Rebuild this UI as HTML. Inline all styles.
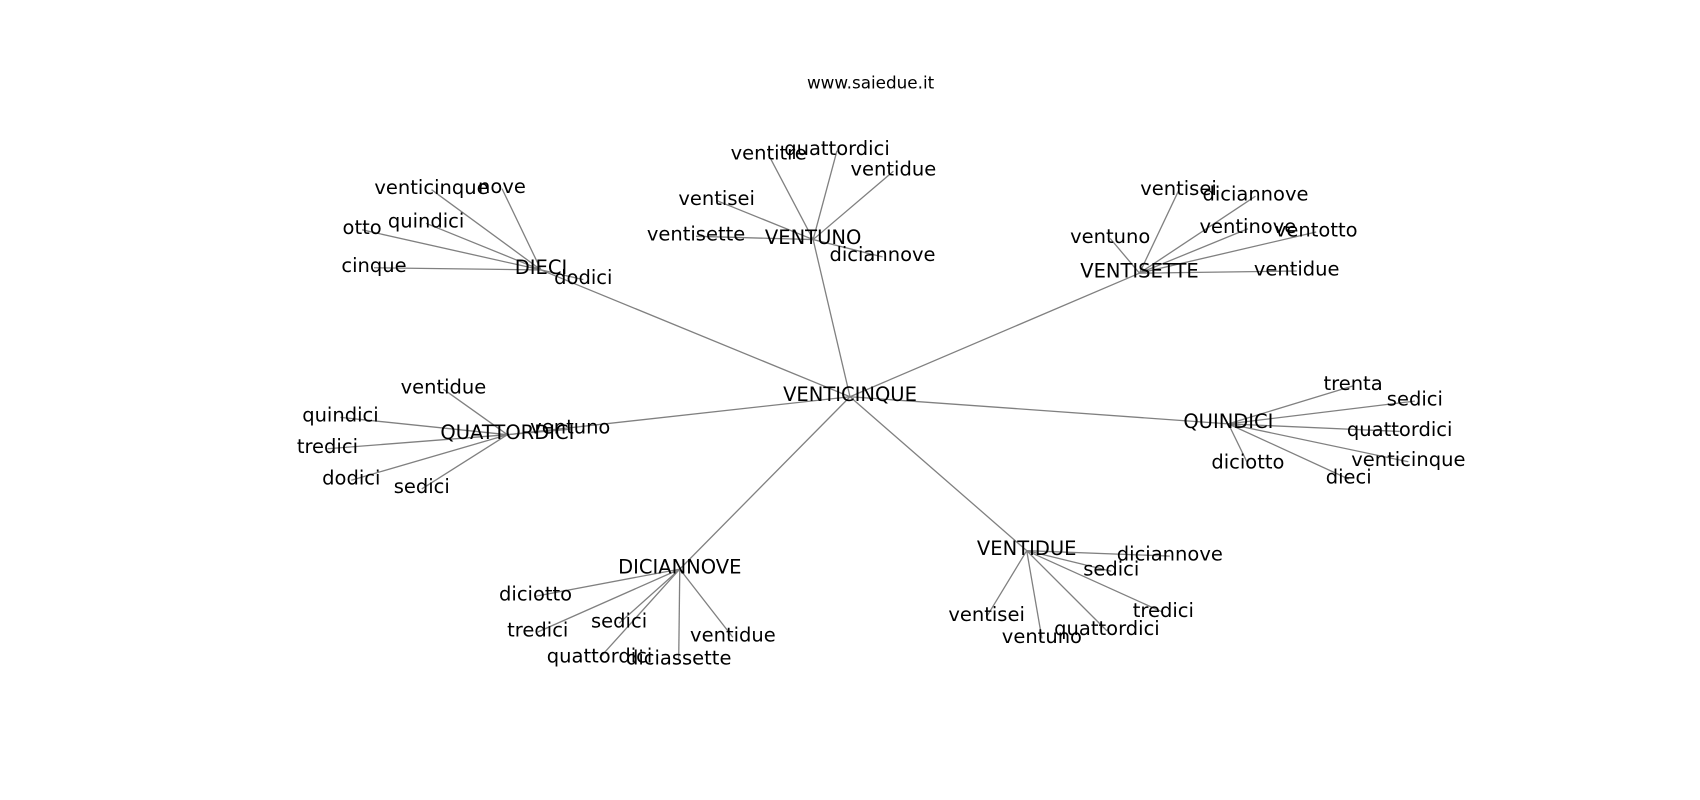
<!DOCTYPE html>
<html><head><meta charset="utf-8"><style>
html,body{margin:0;padding:0;background:#fff;}
svg{display:block}
text{font-family:"DejaVu Sans","Liberation Sans",sans-serif;font-size:18px;fill:#000;text-anchor:middle;dominant-baseline:central}
line{stroke:#808080;stroke-width:1.2}
</style></head><body>
<svg width="1700" height="800" viewBox="0 0 1568 738" preserveAspectRatio="none" xmlns="http://www.w3.org/2000/svg">
<g>
<line x1="784" y1="366" x2="499" y2="249"/>
<line x1="784" y1="366" x2="750" y2="221"/>
<line x1="784" y1="366" x2="1051" y2="252"/>
<line x1="784" y1="366" x2="1133" y2="391"/>
<line x1="784" y1="366" x2="468" y2="401"/>
<line x1="784" y1="366" x2="627" y2="525"/>
<line x1="784" y1="366" x2="947" y2="508"/>

<line x1="499" y1="249" x2="398" y2="175"/>
<line x1="499" y1="249" x2="463" y2="174"/>
<line x1="499" y1="249" x2="393" y2="206"/>
<line x1="499" y1="249" x2="334" y2="212"/>
<line x1="499" y1="249" x2="345" y2="247"/>
<line x1="499" y1="249" x2="538" y2="258"/>

<line x1="750" y1="221" x2="709" y2="143"/>
<line x1="750" y1="221" x2="772" y2="139"/>
<line x1="750" y1="221" x2="824" y2="158"/>
<line x1="750" y1="221" x2="661" y2="185"/>
<line x1="750" y1="221" x2="642" y2="218"/>
<line x1="750" y1="221" x2="814" y2="237"/>

<line x1="1051" y1="252" x2="1087" y2="176"/>
<line x1="1051" y1="252" x2="1158" y2="181"/>
<line x1="1051" y1="252" x2="1151" y2="211"/>
<line x1="1051" y1="252" x2="1214" y2="214"/>
<line x1="1051" y1="252" x2="1024" y2="220"/>
<line x1="1051" y1="252" x2="1196" y2="250"/>

<line x1="1133" y1="391" x2="1248" y2="356"/>
<line x1="1133" y1="391" x2="1305" y2="370"/>
<line x1="1133" y1="391" x2="1291" y2="398"/>
<line x1="1133" y1="391" x2="1299" y2="426"/>
<line x1="1133" y1="391" x2="1244" y2="442"/>
<line x1="1133" y1="391" x2="1151" y2="428"/>

<line x1="468" y1="401" x2="409" y2="359"/>
<line x1="468" y1="401" x2="314" y2="385"/>
<line x1="468" y1="401" x2="302" y2="414"/>
<line x1="468" y1="401" x2="324" y2="443"/>
<line x1="468" y1="401" x2="389" y2="451"/>
<line x1="468" y1="401" x2="526" y2="396"/>

<line x1="627" y1="525" x2="494" y2="550"/>
<line x1="627" y1="525" x2="496" y2="583"/>
<line x1="627" y1="525" x2="571" y2="575"/>
<line x1="627" y1="525" x2="553" y2="607"/>
<line x1="627" y1="525" x2="626" y2="609"/>
<line x1="627" y1="525" x2="676" y2="588"/>

<line x1="947" y1="508" x2="1079" y2="513"/>
<line x1="947" y1="508" x2="1025" y2="527"/>
<line x1="947" y1="508" x2="1073" y2="565"/>
<line x1="947" y1="508" x2="1021" y2="582"/>
<line x1="947" y1="508" x2="961" y2="589"/>
<line x1="947" y1="508" x2="910" y2="569"/>
</g>
<g>
<text x="803" y="76" style="font-size:15.5px">www.saiedue.it</text>
<text x="784" y="364">VENTICINQUE</text>

<text x="499" y="247">DIECI</text>
<text x="398" y="173">venticinque</text>
<text x="463" y="172">nove</text>
<text x="393" y="204">quindici</text>
<text x="334" y="210">otto</text>
<text x="345" y="245">cinque</text>
<text x="538" y="256">dodici</text>

<text x="750" y="219">VENTUNO</text>
<text x="709" y="141">ventitre</text>
<text x="772" y="137">quattordici</text>
<text x="824" y="156">ventidue</text>
<text x="661" y="183">ventisei</text>
<text x="642" y="216">ventisette</text>
<text x="814" y="235">diciannove</text>

<text x="1051" y="250">VENTISETTE</text>
<text x="1087" y="174">ventisei</text>
<text x="1158" y="179">diciannove</text>
<text x="1151" y="209">ventinove</text>
<text x="1214" y="212">ventotto</text>
<text x="1024" y="218">ventuno</text>
<text x="1196" y="248">ventidue</text>

<text x="1133" y="389">QUINDICI</text>
<text x="1248" y="354">trenta</text>
<text x="1305" y="368">sedici</text>
<text x="1291" y="396">quattordici</text>
<text x="1299" y="424">venticinque</text>
<text x="1244" y="440">dieci</text>
<text x="1151" y="426">diciotto</text>

<text x="468" y="399">QUATTORDICI</text>
<text x="409" y="357">ventidue</text>
<text x="314" y="383">quindici</text>
<text x="302" y="412">tredici</text>
<text x="324" y="441">dodici</text>
<text x="389" y="449">sedici</text>
<text x="526" y="394">ventuno</text>

<text x="627" y="523">DICIANNOVE</text>
<text x="494" y="548">diciotto</text>
<text x="496" y="581">tredici</text>
<text x="571" y="573">sedici</text>
<text x="553" y="605">quattordici</text>
<text x="626" y="607">diciassette</text>
<text x="676" y="586">ventidue</text>

<text x="947" y="506">VENTIDUE</text>
<text x="1079" y="511">diciannove</text>
<text x="1025" y="525">sedici</text>
<text x="1073" y="563">tredici</text>
<text x="1021" y="580">quattordici</text>
<text x="961" y="587">ventuno</text>
<text x="910" y="567">ventisei</text>
</g>
</svg>
</body></html>
